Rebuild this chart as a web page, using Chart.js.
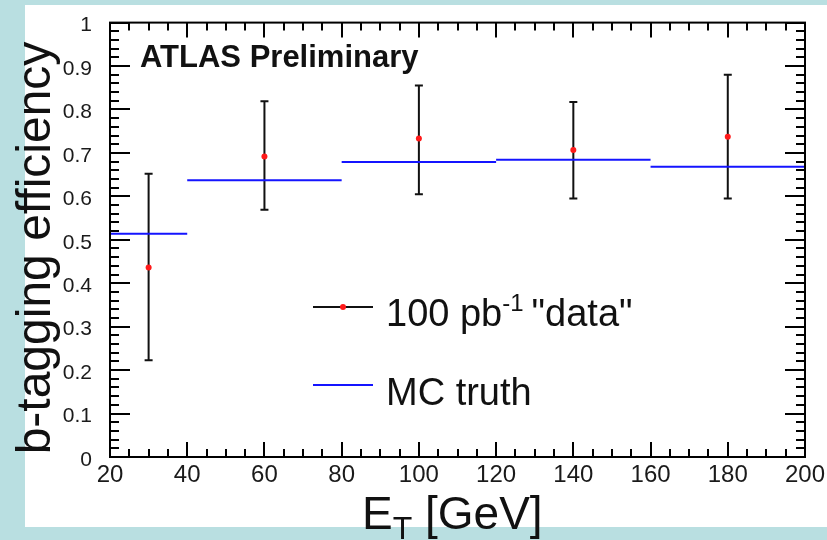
<!DOCTYPE html>
<html>
<head>
<meta charset="utf-8">
<title>b-tagging efficiency</title>
<script src="https://cdn.jsdelivr.net/npm/chart.js@4/dist/chart.umd.min.js"></script>
<style>
    body { margin: 0; background: #b9dfe1; }
    #wrap { position: relative; width: 827px; height: 540px; }
</style>
</head>
<body>
<div id="wrap"><canvas id="effChart" width="827" height="540"></canvas></div>
<script>
// bin centres and measured ("data") efficiency with error bar ends
const binCenters = [30, 60, 100, 140, 180];
const dataEff = [0.436, 0.692, 0.733, 0.707, 0.737];
const dataErrHigh = [0.652, 0.819, 0.855, 0.817, 0.880];
const dataErrLow = [0.223, 0.569, 0.605, 0.595, 0.595];

// MC truth histogram: bin edges and contents
const mcEdges = [20, 40, 80, 120, 160, 200];
const mcEff = [0.514, 0.637, 0.679, 0.684, 0.668];

const xTicks = [20, 40, 60, 80, 100, 120, 140, 160, 180, 200];
const yTicks = [0, 0.1, 0.2, 0.3, 0.4, 0.5, 0.6, 0.7, 0.8, 0.9, 1];

const FONT = "'Liberation Sans', Arial, Helvetica, sans-serif";

document.addEventListener("DOMContentLoaded", function () {
    const points = binCenters.map(function (x, i) {
        return { x: x, y: dataEff[i] };
    });

    // each MC bin is its own horizontal segment, separated by a gap
    const mcSegments = [];
    for (let i = 0; i < mcEff.length; i++) {
        mcSegments.push({ x: mcEdges[i], y: mcEff[i] });
        mcSegments.push({ x: mcEdges[i + 1], y: mcEff[i] });
        if (i < mcEff.length - 1) {
            mcSegments.push({ x: mcEdges[i + 1], y: null });
        }
    }

    const ctx = document.getElementById("effChart");
    new Chart(ctx, {
        type: "scatter",
        data: {
            datasets: [{
                label: "data",
                data: points,
                pointRadius: 3,
                pointHoverRadius: 3,
                pointBackgroundColor: "#ff1a1a",
                pointBorderWidth: 0,
                order: 0,
            }, {
                type: "line",
                label: "MC truth",
                data: mcSegments,
                borderColor: "#1414ff",
                borderWidth: 2,
                pointRadius: 0,
                spanGaps: false,
                fill: false,
                order: 1,
            }],
        },
        options: {
            responsive: false,
            animation: false,
            events: [],
            layout: { padding: { top: 17, right: 22, left: 0, bottom: 0 } },
            plugins: {
                legend: { display: false },
                tooltip: { enabled: false },
            },
            scales: {
                x: {
                    type: "linear",
                    min: 20,
                    max: 200,
                    afterFit: function (scale) { scale.height = 83; },
                    afterBuildTicks: function (scale) {
                        scale.ticks = xTicks.map(function (v) { return { value: v }; });
                    },
                    grid: { display: false },
                    border: { display: false },
                    ticks: {
                        padding: -4,
                        color: "#1a1a1a",
                        font: { family: FONT, size: 24 },
                        maxRotation: 0,
                        autoSkip: false,
                    },
                },
                y: {
                    min: 0,
                    max: 1,
                    afterFit: function (scale) { scale.width = 110; },
                    afterBuildTicks: function (scale) {
                        scale.ticks = yTicks.map(function (v) { return { value: v }; });
                    },
                    grid: { display: false },
                    border: { display: false },
                    ticks: {
                        padding: 10,
                        labelOffset: 3,
                        color: "#1a1a1a",
                        font: { family: FONT, size: 21 },
                        autoSkip: false,
                        callback: function (v) { return String(Math.round(v * 10) / 10); },
                    },
                },
            },
        },
        plugins: [rootStylePlugin],
    });
});

const rootStylePlugin = {
    id: "rootStyle",
    beforeDraw: function (chart) {
        const c = chart.ctx;
        c.save();
        c.fillStyle = "#b9dfe1";
        c.fillRect(0, 0, chart.width, chart.height);
        c.fillStyle = "#ffffff";
        c.fillRect(25, 5, chart.width - 25, 522);
        c.restore();
    },
    beforeDatasetsDraw: function (chart) {
        // vertical error bars with small caps
        const c = chart.ctx;
        const xs = chart.scales.x;
        const ys = chart.scales.y;
        c.save();
        c.strokeStyle = "#111";
        c.lineWidth = 2;
        binCenters.forEach(function (x, i) {
            const px = xs.getPixelForValue(x);
            const top = ys.getPixelForValue(dataErrHigh[i]);
            const bot = ys.getPixelForValue(dataErrLow[i]);
            c.beginPath();
            c.moveTo(px, top);
            c.lineTo(px, bot);
            c.moveTo(px - 4, top);
            c.lineTo(px + 4, top);
            c.moveTo(px - 4, bot);
            c.lineTo(px + 4, bot);
            c.stroke();
        });
        c.restore();
    },
    afterDraw: function (chart) {
        const c = chart.ctx;
        const a = chart.chartArea;
        const xs = chart.scales.x;
        const ys = chart.scales.y;
        c.save();
        c.strokeStyle = "#000";
        c.lineWidth = 2;

        // inward ticks on all four sides
        c.beginPath();
        for (let v = 20; v <= 200; v += 5) {
            const px = Math.round(xs.getPixelForValue(v));
            const len = v % 20 === 0 ? 15 : 8;
            c.moveTo(px, a.bottom);
            c.lineTo(px, a.bottom - len);
            c.moveTo(px, a.top);
            c.lineTo(px, a.top + len);
        }
        for (let k = 0; k <= 50; k++) {
            const py = Math.round(ys.getPixelForValue(k * 0.02));
            const len = k % 5 === 0 ? 20 : 9;
            c.moveTo(a.left, py);
            c.lineTo(a.left + len, py);
            c.moveTo(a.right, py);
            c.lineTo(a.right - len, py);
        }
        c.stroke();
        c.strokeRect(a.left, a.top, a.right - a.left, a.bottom - a.top);

        // legend
        c.textBaseline = "alphabetic";
        c.textAlign = "left";
        c.strokeStyle = "#111";
        c.beginPath();
        c.moveTo(313, 307);
        c.lineTo(373, 307);
        c.stroke();
        c.fillStyle = "#ff1a1a";
        c.beginPath();
        c.arc(343, 307, 3, 0, Math.PI * 2);
        c.fill();
        c.strokeStyle = "#1414ff";
        c.beginPath();
        c.moveTo(313, 385);
        c.lineTo(373, 385);
        c.stroke();

        c.fillStyle = "#111";
        c.font = "38px " + FONT;
        c.fillText("100 pb", 386, 326);
        let w = c.measureText("100 pb").width;
        c.font = "24px " + FONT;
        c.fillText("-1", 386 + w, 311);
        w += c.measureText("-1").width + 8;
        c.font = "38px " + FONT;
        c.fillText("\"data\"", 386 + w, 326);
        c.fillText("MC truth", 386, 405);

        // ATLAS label
        c.font = "bold 31px " + FONT;
        c.fillText("ATLAS Preliminary", 140, 67);

        // x axis title with subscript
        c.font = "46px " + FONT;
        c.fillText("E", 362, 529);
        const ew = c.measureText("E").width;
        c.font = "32px " + FONT;
        c.fillText("T", 362 + ew, 539);
        const tw = c.measureText("T").width;
        c.font = "46px " + FONT;
        c.fillText(" [GeV]", 362 + ew + tw, 529);

        // y axis title
        c.translate(50, 248);
        c.rotate(-Math.PI / 2);
        c.textAlign = "center";
        c.font = "48px " + FONT;
        c.fillText("b-tagging efficiency", 0, 0);
        c.restore();
    },
};
</script>
</body>
</html>
